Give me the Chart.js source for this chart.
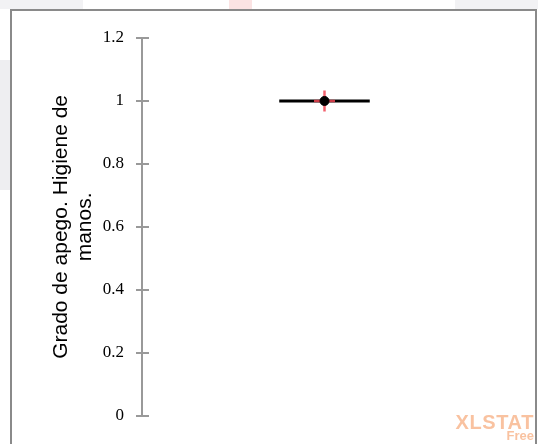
<!DOCTYPE html>
<html>
<head>
<meta charset="utf-8">
<script src="https://cdn.jsdelivr.net/npm/chart.js@4.4.1/dist/chart.umd.min.js"></script>
<style>
    html, body { margin: 0; padding: 0; background: #fff; }
    #wrap { position: relative; width: 538px; height: 444px; overflow: hidden; }
    .patch { position: absolute; }
    #frame {
        position: absolute; left: 10px; top: 9px; width: 527px; height: 460px;
        box-sizing: border-box; border: 2px solid #8a8a8a; background: #fff;
    }
    #chart { position: absolute; left: 0; top: 0; }
    .mark { position: absolute; right: 4px; font-family: "Liberation Sans", Arial, sans-serif;
        font-weight: bold; color: #f9c2a0; line-height: 1; }
</style>
</head>
<body>
<div id="wrap">
    <div class="patch" style="left:0;top:0;width:83px;height:9px;background:#f2f2f4"></div>
    <div class="patch" style="left:229px;top:0;width:23px;height:9px;background:#fbe3e3"></div>
    <div class="patch" style="left:455px;top:0;width:83px;height:9px;background:#f2f2f4"></div>
    <div class="patch" style="left:0;top:60px;width:10px;height:130px;background:#eeeef1"></div>
    <div id="frame"></div>
    <canvas id="chart" width="538" height="444"></canvas>
    <div class="mark" style="top:412px;font-size:20px;letter-spacing:0.6px;">XLSTAT</div>
    <div class="mark" style="top:429px;font-size:13px;">Free</div>
</div>
<script>
document.addEventListener('DOMContentLoaded', function () {
    // --- Data ---
    const categories = ['Higiene de manos'];
    const minimum = [1];
    const q1 = [1];
    const median = [1];
    const q3 = [1];
    const maximum = [1];
    const mean = [1];
    const yTicks = [0, 0.2, 0.4, 0.6, 0.8, 1, 1.2];
    const yTitle = ['Grado de apego. Higiene de', 'manos.'];

    // box drawn at the centre of a hidden 0..1 x scale
    const CENTER = 0.5;
    const HALF = 0.124;

    const boxPoints = [];
    const whiskerPoints = [];
    categories.forEach((c, i) => {
        boxPoints.push({ x: CENTER - HALF, y: q1[i] }, { x: CENTER + HALF, y: q1[i] },
            { x: CENTER + HALF, y: q3[i] }, { x: CENTER - HALF, y: q3[i] },
            { x: CENTER - HALF, y: q1[i] }, { x: NaN, y: NaN },
            { x: CENTER - HALF, y: median[i] }, { x: CENTER + HALF, y: median[i] });
        whiskerPoints.push({ x: CENTER, y: minimum[i] }, { x: CENTER, y: q1[i] },
            { x: NaN, y: NaN }, { x: CENTER, y: q3[i] }, { x: CENTER, y: maximum[i] });
    });

    // tick marks crossing the axis on both sides
    const tickMarks = {
        id: 'tickMarks',
        afterDraw(chart) {
            const s = chart.scales.y;
            const ctx = chart.ctx;
            const x = chart.chartArea.left;
            ctx.save();
            ctx.strokeStyle = '#999';
            ctx.lineWidth = 2;
            s.ticks.forEach((t, i) => {
                const y = Math.round(s.getPixelForTick(i));
                ctx.beginPath();
                ctx.moveTo(x - 6, y);
                ctx.lineTo(x + 7, y);
                ctx.stroke();
            });
            ctx.restore();
        }
    };

    new Chart(document.getElementById('chart'), {
        type: 'scatter',
        data: {
            datasets: [
                {
                    label: 'Median',
                    data: categories.map((c, i) => ({ x: CENTER, y: median[i] })),
                    pointStyle: 'circle',
                    pointRadius: 4.5,
                    backgroundColor: '#000',
                    borderColor: '#000',
                    borderWidth: 1,
                    order: 0
                },
                {
                    label: 'Mean',
                    data: categories.map((c, i) => ({ x: CENTER, y: mean[i] })),
                    pointStyle: 'cross',
                    pointRadius: 10.5,
                    borderColor: 'rgba(240, 70, 85, 0.85)',
                    borderWidth: 2.5,
                    order: 1
                },
                {
                    label: 'Box',
                    data: boxPoints,
                    showLine: true,
                    spanGaps: false,
                    borderColor: '#000',
                    borderWidth: 3,
                    pointRadius: 0,
                    order: 2
                },
                {
                    label: 'Whiskers',
                    data: whiskerPoints,
                    showLine: true,
                    spanGaps: false,
                    borderColor: '#000',
                    borderWidth: 1,
                    pointRadius: 0,
                    order: 3
                }
            ]
        },
        options: {
            responsive: false,
            animation: false,
            layout: { padding: { left: 0, top: 38, right: 31, bottom: 28 } },
            plugins: {
                legend: { display: false },
                tooltip: { enabled: false }
            },
            scales: {
                x: {
                    type: 'linear',
                    min: 0,
                    max: 1,
                    display: false
                },
                y: {
                    type: 'linear',
                    min: 0,
                    max: 1.2,
                    afterBuildTicks: s => { s.ticks = yTicks.map(v => ({ value: v })); },
                    afterFit: s => { s.width = 142; },
                    grid: { display: false, drawTicks: false },
                    border: { display: true, color: '#999', width: 2 },
                    ticks: {
                        padding: 18,
                        color: '#000',
                        font: { family: '"Liberation Serif", serif', size: 17 },
                        callback: v => String(v)
                    },
                    title: {
                        display: true,
                        text: yTitle,
                        color: '#000',
                        font: { family: '"Liberation Sans", Arial, sans-serif', size: 21, lineHeight: 1.15 },
                        padding: { top: 49, bottom: 0 }
                    }
                }
            }
        },
        plugins: [tickMarks]
    });
});
</script>
</body>
</html>
